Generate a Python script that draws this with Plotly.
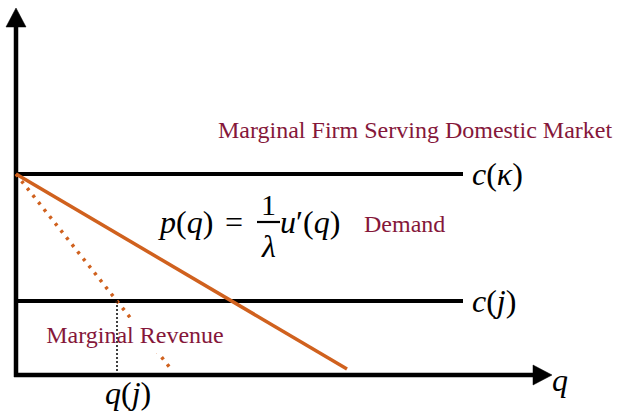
import plotly.graph_objects as go

# Diagram coordinates: q along the horizontal axis, p along the vertical axis
q_axis_end = 536
p_axis_end = 367

c_kappa = 201          # cost of the marginal firm serving the domestic market
c_j = 74               # cost of firm j

demand_q = [0, 331]
demand_p = [201, 6]

mr_q = [0, 155]
mr_p = [201, 6]

q_j = 101              # quantity where marginal revenue meets c(j)

cost_q = [0, 447]

ORANGE = "#d0611e"
MAROON = "#85173a"
SERIF = "Liberation Serif"

head_len = 19
head_half = 10

fig = go.Figure()

# axes
fig.add_trace(go.Scatter(x=[-2, q_axis_end - head_len + 1], y=[0, 0], mode="lines",
                         line=dict(color="black", width=4.5), hoverinfo="skip"))
fig.add_trace(go.Scatter(x=[0, 0], y=[-2, p_axis_end - head_len + 1], mode="lines",
                         line=dict(color="black", width=4.5), hoverinfo="skip"))
fig.add_trace(go.Scatter(
    x=[q_axis_end - head_len, q_axis_end, q_axis_end - head_len, q_axis_end - head_len],
    y=[head_half, 0, -head_half, head_half], mode="lines", fill="toself",
    fillcolor="black", line=dict(color="black", width=0.5), hoverinfo="skip"))
fig.add_trace(go.Scatter(
    x=[-head_half, 0, head_half, -head_half],
    y=[p_axis_end - head_len, p_axis_end, p_axis_end - head_len, p_axis_end - head_len],
    mode="lines", fill="toself", fillcolor="black",
    line=dict(color="black", width=0.5), hoverinfo="skip"))

# cost levels
for c in (c_kappa, c_j):
    fig.add_trace(go.Scatter(x=cost_q, y=[c, c], mode="lines",
                             line=dict(color="black", width=4), hoverinfo="skip"))

# demand and marginal revenue
fig.add_trace(go.Scatter(x=demand_q, y=demand_p, mode="lines",
                         line=dict(color=ORANGE, width=3.5), hoverinfo="skip"))
fig.add_trace(go.Scatter(x=mr_q, y=mr_p, mode="lines",
                         line=dict(color=ORANGE, width=3.5, dash="3px,6px"),
                         hoverinfo="skip"))

# white backing behind the marginal revenue label
fig.add_trace(go.Scatter(x=[30, 210, 210, 30, 30], y=[22, 22, 57, 57, 22],
                         mode="lines", fill="toself", fillcolor="white",
                         line=dict(width=0, color="white"), hoverinfo="skip"))

# q(j) drop line
fig.add_trace(go.Scatter(x=[q_j, q_j], y=[0, c_j], mode="lines",
                         line=dict(color="black", width=1.5, dash="2px,2px"),
                         hoverinfo="skip"))

fig.add_trace(go.Scatter(x=[119], y=[38], mode="text", text=["Marginal Revenue"],
                         textfont=dict(family=SERIF, size=24, color=MAROON),
                         textposition="middle center", hoverinfo="skip"))

ann = []


def label(x, y, text, size, color="black", xanchor="center"):
    ann.append(dict(x=x, y=y, xref="x", yref="y", text=text, showarrow=False,
                    xanchor=xanchor, yanchor="middle",
                    font=dict(family=SERIF, size=size, color=color)))


MATH_SIZE = 32

label(200, 245, "Marginal Firm Serving Domestic Market", 24, MAROON, "left")
label(454, c_kappa, "<i>c</i>(<i>κ</i>)", MATH_SIZE, xanchor="left")
label(454, c_j, "<i>c</i>(<i>j</i>)", MATH_SIZE, xanchor="left")
label(534, -5, "<i>q</i>", MATH_SIZE, xanchor="left")
label(q_j + 11, -18, "<i>q</i>(<i>j</i>)", MATH_SIZE)

# p(q) = (1/λ) u'(q)
label(199, 153, "<i>p</i>(<i>q</i>)", MATH_SIZE, xanchor="right")
label(218, 153, "=", MATH_SIZE)
label(252, 171, "1", MATH_SIZE - 2)
label(252, 129, "<i>λ</i>", MATH_SIZE)
label(262, 153, "<i>u</i>′(<i>q</i>)", MATH_SIZE, xanchor="left")
fig.add_shape(type="line", xref="x", yref="y", x0=241, x1=264, y0=153, y1=153,
              line=dict(color="black", width=2.2))

label(346, 151, "Demand", 24, MAROON, "left")

fig.update_layout(
    width=620, height=413, margin=dict(l=0, r=0, t=0, b=0),
    paper_bgcolor="white", plot_bgcolor="white", showlegend=False,
    xaxis=dict(range=[-16, 604], visible=False, fixedrange=True),
    yaxis=dict(range=[-38, 375], visible=False, fixedrange=True),
    annotations=ann,
)

fig.write_html("out.html")
